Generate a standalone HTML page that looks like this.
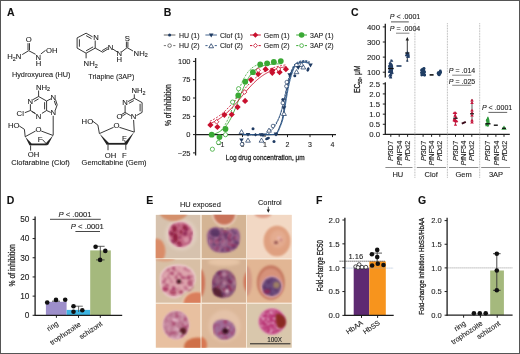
<!DOCTYPE html>
<html><head><meta charset="utf-8"><style>
html,body{margin:0;padding:0;background:#fff;}
body{width:520px;height:354px;overflow:hidden;position:relative;}
svg{position:absolute;left:0;top:0;display:block;will-change:transform;}
svg text{font-family:"Liberation Sans",sans-serif;stroke:#222;stroke-width:0.1px;}
.cd{stroke:#222;stroke-width:0.28px;}
</style></head><body>
<svg width="520" height="354" viewBox="0 0 520 354">
<rect x="0" y="0" width="520" height="354" fill="#fff"/>
<defs>
<filter id="bl1" x="-30%" y="-30%" width="160%" height="160%"><feGaussianBlur stdDeviation="0.9"/></filter>
<filter id="bl2" x="-30%" y="-30%" width="160%" height="160%"><feGaussianBlur stdDeviation="0.8"/></filter>
<filter id="bl4" x="-100%" y="-100%" width="300%" height="300%"><feGaussianBlur stdDeviation="0.8"/></filter>
<filter id="bl3" x="-30%" y="-30%" width="160%" height="160%"><feGaussianBlur stdDeviation="1.6"/></filter>
<clipPath id="c00"><rect x="155.7" y="214.8" width="44.8" height="43.5"/></clipPath>
<clipPath id="c10"><rect x="155.7" y="259.3" width="44.8" height="43.5"/></clipPath>
<clipPath id="c20"><rect x="155.7" y="303.8" width="44.8" height="44.0"/></clipPath>
<clipPath id="c01"><rect x="201.5" y="214.8" width="44.5" height="43.5"/></clipPath>
<clipPath id="c11"><rect x="201.5" y="259.3" width="44.5" height="43.5"/></clipPath>
<clipPath id="c21"><rect x="201.5" y="303.8" width="44.5" height="44.0"/></clipPath>
<clipPath id="c02"><rect x="247.0" y="214.8" width="44.8" height="43.5"/></clipPath>
<clipPath id="c12"><rect x="247.0" y="259.3" width="44.8" height="43.5"/></clipPath>
<clipPath id="c22"><rect x="247.0" y="303.8" width="44.8" height="44.0"/></clipPath>
<filter id="mdA" x="0" y="0" width="100%" height="100%" color-interpolation-filters="sRGB"><feTurbulence type="fractalNoise" baseFrequency="0.25" numOctaves="2" seed="3" result="t"/><feColorMatrix in="t" type="matrix" values="0 0 0 0 0.541  0 0 0 0 0.125  0 0 0 0 0.314  3.4 0 0 0 -1.58" result="sp"/><feComposite in="sp" in2="SourceAlpha" operator="in" result="cc"/><feGaussianBlur in="cc" stdDeviation="0.8"/></filter>
<filter id="mlA" x="0" y="0" width="100%" height="100%" color-interpolation-filters="sRGB"><feTurbulence type="fractalNoise" baseFrequency="0.22" numOctaves="2" seed="11" result="t"/><feColorMatrix in="t" type="matrix" values="0 0 0 0 0.941  0 0 0 0 0.816  0 0 0 0 0.863  2.4 0 0 0 -1.15" result="sp"/><feComposite in="sp" in2="SourceAlpha" operator="in" result="cc"/><feGaussianBlur in="cc" stdDeviation="0.8"/></filter>
<filter id="mdB" x="0" y="0" width="100%" height="100%" color-interpolation-filters="sRGB"><feTurbulence type="fractalNoise" baseFrequency="0.24" numOctaves="2" seed="5" result="t"/><feColorMatrix in="t" type="matrix" values="0 0 0 0 0.333  0 0 0 0 0.188  0 0 0 0 0.376  3.4 0 0 0 -1.55" result="sp"/><feComposite in="sp" in2="SourceAlpha" operator="in" result="cc"/><feGaussianBlur in="cc" stdDeviation="0.8"/></filter>
<filter id="mlB" x="0" y="0" width="100%" height="100%" color-interpolation-filters="sRGB"><feTurbulence type="fractalNoise" baseFrequency="0.22" numOctaves="2" seed="17" result="t"/><feColorMatrix in="t" type="matrix" values="0 0 0 0 0.784  0 0 0 0 0.596  0 0 0 0 0.690  1.9 0 0 0 -0.88" result="sp"/><feComposite in="sp" in2="SourceAlpha" operator="in" result="cc"/><feGaussianBlur in="cc" stdDeviation="0.8"/></filter>
<filter id="mdC" x="0" y="0" width="100%" height="100%" color-interpolation-filters="sRGB"><feTurbulence type="fractalNoise" baseFrequency="0.25" numOctaves="2" seed="8" result="t"/><feColorMatrix in="t" type="matrix" values="0 0 0 0 0.627  0 0 0 0 0.188  0 0 0 0 0.369  3.4 0 0 0 -1.6" result="sp"/><feComposite in="sp" in2="SourceAlpha" operator="in" result="cc"/><feGaussianBlur in="cc" stdDeviation="0.8"/></filter>
<filter id="mlW" x="0" y="0" width="100%" height="100%" color-interpolation-filters="sRGB"><feTurbulence type="fractalNoise" baseFrequency="0.4" numOctaves="2" seed="21" result="t"/><feColorMatrix in="t" type="matrix" values="0 0 0 0 0.980  0 0 0 0 0.902  0 0 0 0 0.941  4.2 0 0 0 -2.05" result="sp"/><feComposite in="sp" in2="SourceAlpha" operator="in" result="cc"/><feGaussianBlur in="cc" stdDeviation="0.8"/></filter>
</defs>
<rect x="155.7" y="214.8" width="136.1" height="133" fill="#f6e8d8"/>
<g clip-path="url(#c00)">
<rect x="155.7" y="214.8" width="44.8" height="43.5" fill="#d6c2ae"/>
<ellipse cx="181" cy="234.5" rx="16" ry="16" fill="#e0cebe" filter="url(#bl3)" />
<ellipse cx="173.5" cy="210.5" rx="14.5" ry="10.5" fill="#d4906c" filter="url(#bl1)" />
<ellipse cx="156.5" cy="251" rx="9" ry="12.5" fill="#da8c68" filter="url(#bl1)" />
<path d="M168,232 C168,225 175,221 182,221.5 C189,222 194,228 193.5,235 C193,242 188,248 181,248 C173,248 168,240 168,232 Z" fill="#eac4c8" filter="url(#bl1)"/>
<path d="M169,232 C169,225.5 175.5,222.3 182,222.6 C188.5,223 192.7,228.5 192.4,235 C192,241.5 187.5,247 181,247 C173.5,247 169,239.5 169,232 Z" fill="#c9708a" filter="url(#bl2)"/>
<ellipse cx="180.7" cy="234.6" rx="12" ry="12.4" fill="#000" filter="url(#mdA)" />
<ellipse cx="174.5" cy="229" rx="2.2" ry="3.2" fill="#8e1c3c" filter="url(#bl4)" opacity="0.9"/>
<ellipse cx="175.5" cy="237.5" rx="2.4" ry="4.5" fill="#8e1c3c" filter="url(#bl4)" opacity="0.9"/>
<ellipse cx="179" cy="243" rx="2.5" ry="1.8" fill="#8e1c3c" filter="url(#bl4)" opacity="0.9"/>
<ellipse cx="184.5" cy="227.5" rx="2" ry="2.2" fill="#8e1c3c" filter="url(#bl4)" opacity="0.9"/>
<ellipse cx="181" cy="232" rx="1.6" ry="2.5" fill="#8e1c3c" filter="url(#bl4)" opacity="0.9"/>
<ellipse cx="172" cy="234" rx="1.5" ry="2.5" fill="#8e1c3c" filter="url(#bl4)" opacity="0.9"/>
<ellipse cx="186.5" cy="240" rx="3.5" ry="3" fill="#e0a0b0" filter="url(#bl4)" opacity="0.7"/>
</g>
<g clip-path="url(#c01)">
<rect x="201.5" y="214.8" width="44.5" height="43.5" fill="#d4b494"/>
<path d="M207,238 C206,229 213,226 218,227.5 C222,229 224,231 226,231 C229,229 234,227 237.5,229 C241,233 241,242 236.5,248 C231,253.5 218,254 212,250 C208,246 207,242 207,238 Z" fill="#96608a" filter="url(#bl2)"/>
<ellipse cx="224" cy="240" rx="15.5" ry="12.5" fill="#000" filter="url(#mdB)" />
<ellipse cx="224" cy="241" rx="14" ry="11" fill="#000" filter="url(#mdA)" />
<ellipse cx="224" cy="240" rx="15" ry="12" fill="#000" filter="url(#mlB)" />
<ellipse cx="215" cy="232.5" rx="5" ry="4" fill="#553262" filter="url(#bl1)" opacity="0.85"/>
<ellipse cx="224.3" cy="214.5" rx="12" ry="12" fill="#eed8c8" filter="url(#bl1)" />
<ellipse cx="224.3" cy="214" rx="10.8" ry="10.8" fill="#c8735a" filter="url(#bl1)" />
</g>
<g clip-path="url(#c02)">
<rect x="247.0" y="214.8" width="44.8" height="43.5" fill="#f2d8c4"/>
<ellipse cx="263" cy="214" rx="8.5" ry="4" fill="#dfa08a" filter="url(#bl1)" />
<ellipse cx="277" cy="241" rx="14.5" ry="16.5" fill="#f6e0cc" filter="url(#bl1)" />
<ellipse cx="277" cy="241" rx="13.6" ry="15.6" fill="#dfa080" filter="url(#bl1)" />
<ellipse cx="278" cy="239" rx="8" ry="9" fill="#e4ac90" filter="url(#bl3)" />
<ellipse cx="276" cy="242.5" rx="1.9" ry="1.6" fill="#8a4848" filter="url(#bl4)" />
<ellipse cx="279" cy="238" rx="2.2" ry="1.8" fill="#e8b8b0" filter="url(#bl4)" />
<ellipse cx="281" cy="240" rx="1.2" ry="1.5" fill="#c88080" filter="url(#bl4)" />
</g>
<g clip-path="url(#c10)">
<rect x="155.7" y="259.3" width="44.8" height="43.5" fill="#d8bfa5"/>
<ellipse cx="165" cy="258.5" rx="10" ry="3" fill="#dca080" filter="url(#bl1)" />
<path d="M160,280 C159,270 168,264.5 178,264.5 C188,264.5 196,270 195.5,279 C195,286 190,290 185,292 C182,294 180,297 176,298 C166,299 160,290 160,280 Z" fill="#eed6d4" filter="url(#bl1)"/>
<path d="M161,280 C160,271 168,265.5 178,265.5 C187.5,265.5 195,271 194.5,279 C194,285.5 189.5,289 184.5,291 C181.5,293 179.5,296 176,297 C166.5,298 161,290 161,280 Z" fill="#dea6ae" filter="url(#bl2)"/>
<ellipse cx="178" cy="281" rx="16.5" ry="15" fill="#000" filter="url(#mdC)" />
<ellipse cx="179" cy="281.4" rx="1.9" ry="2" fill="#2a0c10" filter="url(#bl4)" />
<ellipse cx="165.5" cy="289" rx="3" ry="2.3" fill="#b04068" filter="url(#bl4)" />
<ellipse cx="173" cy="292.5" rx="3.5" ry="2" fill="#b04868" filter="url(#bl4)" />
<ellipse cx="181" cy="292" rx="2" ry="1.8" fill="#a84060" filter="url(#bl4)" />
<ellipse cx="190" cy="283" rx="2.5" ry="3" fill="#b55a78" filter="url(#bl4)" />
<ellipse cx="196.5" cy="303" rx="14" ry="11.5" fill="#f0d8c0" filter="url(#bl1)" />
<ellipse cx="197" cy="303" rx="13.5" ry="11" fill="#da7e5c" filter="url(#bl1)" />
</g>
<g clip-path="url(#c11)">
<rect x="201.5" y="259.3" width="44.5" height="43.5" fill="#d5b294"/>
<ellipse cx="200" cy="283" rx="5" ry="14" fill="#cf7458" filter="url(#bl1)" />
<ellipse cx="249" cy="282" rx="5.5" ry="11" fill="#cf7458" filter="url(#bl1)" />
<ellipse cx="224" cy="262" rx="16" ry="4" fill="#e6c4a6" filter="url(#bl3)" />
<path d="M212,286 C211.5,277 216,269.5 224,269.5 C231.5,269.5 236.5,277 236,285 C235.5,293 230,298 223.5,297.8 C216.5,297.6 212.3,293 212,286 Z" fill="#93607e" filter="url(#bl4)"/>
<ellipse cx="224" cy="283.8" rx="11.8" ry="13.4" fill="#000" filter="url(#mdB)" />
<ellipse cx="224" cy="283.8" rx="11.5" ry="13" fill="#000" filter="url(#mdA)" />
<ellipse cx="224" cy="283.8" rx="11.5" ry="13" fill="#000" filter="url(#mlB)" />
<path d="M212.5,289 C214,295 219,298 224,297 C221,294 219,290 216,287 Z" fill="#4e1e2e" filter="url(#bl4)" opacity="0.9"/>
<ellipse cx="217.5" cy="292" rx="4" ry="3.5" fill="#5a2232" filter="url(#bl4)" opacity="0.8"/>
<ellipse cx="227" cy="291" rx="1.8" ry="1.5" fill="#e8d0dc" filter="url(#bl4)" />
</g>
<g clip-path="url(#c12)">
<rect x="247.0" y="259.3" width="44.8" height="43.5" fill="#e2b694"/>
<ellipse cx="247" cy="281" rx="5" ry="15" fill="#d49a84" filter="url(#bl1)" />
<ellipse cx="270.8" cy="282.5" rx="14" ry="17.2" fill="#c67a62" filter="url(#bl1)" />
<ellipse cx="270.8" cy="283.5" rx="12" ry="15" fill="#d6927a" filter="url(#bl2)" />
<ellipse cx="271.8" cy="286.6" rx="11" ry="10.8" fill="#d8a0a8" filter="url(#bl2)" />
<ellipse cx="271.8" cy="286.6" rx="9.3" ry="9.3" fill="#6c4c7c" filter="url(#bl2)" />
<ellipse cx="271.8" cy="286.6" rx="9" ry="9" fill="#000" filter="url(#mdB)" />
<ellipse cx="276.5" cy="285" rx="3.4" ry="3.2" fill="#a88a66" filter="url(#bl4)" opacity="0.85"/>
<ellipse cx="267" cy="291.5" rx="3.2" ry="2.2" fill="#8a2c5a" filter="url(#bl4)" />
</g>
<g clip-path="url(#c20)">
<rect x="155.7" y="303.8" width="44.8" height="44.0" fill="#e8c0a0"/>
<ellipse cx="197" cy="347" rx="13" ry="9.5" fill="#cf7048" filter="url(#bl1)" />
<ellipse cx="176" cy="325" rx="13.5" ry="14.5" fill="#ecc8c4" filter="url(#bl1)" />
<ellipse cx="176" cy="325" rx="12.7" ry="13.8" fill="#c08098" filter="url(#bl4)" />
<ellipse cx="176" cy="325" rx="12.2" ry="13.3" fill="#000" filter="url(#mdC)" />
<ellipse cx="176" cy="325" rx="12.2" ry="13.3" fill="#000" filter="url(#mlA)" />
<ellipse cx="183" cy="331" rx="3.2" ry="3.6" fill="#5a1e26" filter="url(#bl4)" />
<ellipse cx="180.5" cy="333.5" rx="1.2" ry="1" fill="#f4e8ec" filter="url(#bl4)" />
</g>
<g clip-path="url(#c21)">
<rect x="201.5" y="303.8" width="44.5" height="44.0" fill="#dcb89a"/>
<ellipse cx="201" cy="345" rx="6" ry="8" fill="#d87852" filter="url(#bl1)" />
<ellipse cx="224.5" cy="326" rx="16" ry="16" fill="#e4c2a8" filter="url(#bl3)" />
<path d="M213,326 C214,320 221,318.5 227,320 C232,321.5 236,326 235.5,331 C235,337 229,340 223,339.5 C217,339 212.5,333 213,326 Z" fill="#a06e98" filter="url(#bl2)"/>
<ellipse cx="224" cy="329.6" rx="11" ry="9.6" fill="#000" filter="url(#mdC)" />
<ellipse cx="225.4" cy="331" rx="3.2" ry="3" fill="#3a1020" filter="url(#bl4)" />
<ellipse cx="228" cy="327.8" rx="1" ry="1" fill="#f4eef0" filter="url(#bl4)" />
</g>
<g clip-path="url(#c22)">
<rect x="247.0" y="303.8" width="44.8" height="44.0" fill="#d9c7ac"/>
<ellipse cx="272" cy="321.5" rx="13.5" ry="13.2" fill="#e6b4c4" filter="url(#bl1)" />
<ellipse cx="272" cy="321.5" rx="12.8" ry="12.5" fill="#b83272" filter="url(#bl4)" />
<ellipse cx="272" cy="321.5" rx="12.3" ry="12" fill="#000" filter="url(#mlW)" />
<path d="M276,314 C281,313 286,317 286,322 C286,327 282,329 278,328 C276,324 275,318 276,314 Z" fill="#8a2a22" filter="url(#bl2)"/>
</g>
<line x1="250" y1="343.8" x2="290.4" y2="343.8" stroke="#222" stroke-width="1"/>
<text x="274.6" y="341.8" font-size="6.3" text-anchor="middle" fill="#222">100X</text>
<text x="180" y="206.7" font-size="7.2" fill="#222" textLength="40.8" lengthAdjust="spacingAndGlyphs">HU exposed</text>
<line x1="180" y1="211.3" x2="221.5" y2="211.3" stroke="#333" stroke-width="1"/>
<text x="258" y="205.2" font-size="7.2" fill="#222" textLength="23.7" lengthAdjust="spacingAndGlyphs">Control</text>
<line x1="268.3" y1="206.6" x2="268.3" y2="210.5" stroke="#222" stroke-width="0.8"/>
<polygon points="266.6,209.6 270,209.6 268.3,212.7" fill="#222"/>
<text x="28.7" y="41.6" font-size="7.7" text-anchor="middle" fill="#222">O</text>
<line x1="28.0" y1="43.2" x2="28.0" y2="50.2" stroke="#222" stroke-width="0.9"/>
<line x1="29.5" y1="43.2" x2="29.5" y2="50.2" stroke="#222" stroke-width="0.9"/>
<text x="7.2" y="59.1" font-size="7.7" text-anchor="start" fill="#222">H<tspan font-size="5.4" dy="1.6">2</tspan><tspan dy="-1.6">N</tspan></text>
<line x1="22.2" y1="54.6" x2="28.7" y2="50.7" stroke="#222" stroke-width="0.9"/>
<line x1="28.7" y1="50.7" x2="35.6" y2="54.3" stroke="#222" stroke-width="0.9"/>
<text x="38.3" y="59.8" font-size="7.7" text-anchor="middle" fill="#222">N</text>
<text x="38.6" y="66" font-size="7.7" text-anchor="middle" fill="#222">H</text>
<line x1="40.8" y1="54.0" x2="45.6" y2="50.3" stroke="#222" stroke-width="0.9"/>
<text x="46.0" y="52.8" font-size="7.7" text-anchor="start" fill="#222">OH</text>
<text x="12" y="77.0" font-size="7.2" text-anchor="start" fill="#222" font-weight="normal" textLength="58.5" lengthAdjust="spacingAndGlyphs">Hydroxyurea (HU)</text>
<line x1="86.1" y1="33.2" x2="92.6" y2="36.9" stroke="#222" stroke-width="0.9"/>
<line x1="95.2" y1="40.5" x2="95.2" y2="48.1" stroke="#222" stroke-width="0.9"/>
<line x1="95.2" y1="48.1" x2="86.1" y2="53.2" stroke="#222" stroke-width="0.9"/>
<line x1="86.1" y1="53.2" x2="77.1" y2="48.1" stroke="#222" stroke-width="0.9"/>
<line x1="77.1" y1="48.1" x2="77.1" y2="37.9" stroke="#222" stroke-width="0.9"/>
<line x1="77.1" y1="37.9" x2="86.1" y2="33.2" stroke="#222" stroke-width="0.9"/>
<line x1="79.4" y1="39.3" x2="79.4" y2="46.7" stroke="#222" stroke-width="0.9"/>
<line x1="86.1" y1="35.6" x2="91.5" y2="38.7" stroke="#222" stroke-width="0.9"/>
<line x1="86.1" y1="50.8" x2="93.1" y2="46.9" stroke="#222" stroke-width="0.9"/>
<text x="96.1" y="40.4" font-size="7.7" text-anchor="middle" fill="#222">N</text>
<line x1="86.1" y1="53.2" x2="86.1" y2="58.3" stroke="#222" stroke-width="0.9"/>
<text x="83.6" y="66.2" font-size="7.7" text-anchor="start" fill="#222">NH<tspan font-size="5.4" dy="1.6">2</tspan></text>
<line x1="95.2" y1="48.1" x2="102.6" y2="52.2" stroke="#222" stroke-width="0.9"/>
<line x1="102.6" y1="52.2" x2="108.2" y2="48.8" stroke="#222" stroke-width="0.9"/>
<line x1="102.1" y1="50.6" x2="107.6" y2="47.4" stroke="#222" stroke-width="0.9"/>
<text x="110.6" y="49.6" font-size="7.7" text-anchor="middle" fill="#222">N</text>
<line x1="113" y1="49.2" x2="117.4" y2="52.0" stroke="#222" stroke-width="0.9"/>
<text x="119.3" y="55.8" font-size="7.7" text-anchor="middle" fill="#222">N</text>
<text x="119.3" y="62.2" font-size="7.7" text-anchor="middle" fill="#222">H</text>
<line x1="121.5" y1="52.0" x2="127.1" y2="47.6" stroke="#222" stroke-width="0.9"/>
<line x1="127.1" y1="47.6" x2="133.0" y2="51.0" stroke="#222" stroke-width="0.9"/>
<line x1="126.4" y1="47.4" x2="126.4" y2="41.6" stroke="#222" stroke-width="0.9"/>
<line x1="127.9" y1="47.4" x2="127.9" y2="41.6" stroke="#222" stroke-width="0.9"/>
<text x="127.4" y="40.6" font-size="7.7" text-anchor="middle" fill="#222">S</text>
<text x="133.6" y="55.8" font-size="7.7" text-anchor="start" fill="#222">NH<tspan font-size="5.4" dy="1.6">2</tspan></text>
<text x="88.3" y="78.6" font-size="7.2" text-anchor="start" fill="#222" font-weight="normal" textLength="46" lengthAdjust="spacingAndGlyphs">Triapine (3AP)</text>
<text x="36" y="89.5" font-size="7.7" text-anchor="start" fill="#222">NH<tspan font-size="5.4" dy="1.6">2</tspan></text>
<line x1="38.6" y1="90.5" x2="38.6" y2="96.5" stroke="#222" stroke-width="0.9"/>
<line x1="38.6" y1="96.5" x2="33.0" y2="99.6" stroke="#222" stroke-width="0.9"/>
<line x1="30.4" y1="104.2" x2="30.4" y2="110.5" stroke="#222" stroke-width="0.9"/>
<line x1="30.4" y1="110.5" x2="35.4" y2="113.4" stroke="#222" stroke-width="0.9"/>
<line x1="41.9" y1="113.4" x2="46.6" y2="110.5" stroke="#222" stroke-width="0.9"/>
<line x1="46.6" y1="110.5" x2="46.6" y2="101.0" stroke="#222" stroke-width="0.9"/>
<line x1="46.6" y1="101.0" x2="38.6" y2="96.5" stroke="#222" stroke-width="0.9"/>
<line x1="44.6" y1="102.2" x2="44.6" y2="109.4" stroke="#222" stroke-width="0.9"/>
<line x1="38.6" y1="98.9" x2="34.2" y2="101.4" stroke="#222" stroke-width="0.9"/>
<line x1="32.2" y1="111.8" x2="35.6" y2="113.8" stroke="#222" stroke-width="0.9"/>
<text x="30.4" y="103.6" font-size="7.7" text-anchor="middle" fill="#222">N</text>
<text x="38.6" y="118.6" font-size="7.7" text-anchor="middle" fill="#222">N</text>
<line x1="24.8" y1="112.7" x2="30.4" y2="110.5" stroke="#222" stroke-width="0.9"/>
<text x="16.6" y="115.6" font-size="7.7" text-anchor="start" fill="#222">Cl</text>
<line x1="46.6" y1="101.0" x2="51.0" y2="98.8" stroke="#222" stroke-width="0.9"/>
<text x="53.4" y="100.2" font-size="7.7" text-anchor="middle" fill="#222">N</text>
<line x1="55.5" y1="99.6" x2="57.2" y2="104.8" stroke="#222" stroke-width="0.9"/>
<line x1="54.3" y1="100.8" x2="55.8" y2="105.4" stroke="#222" stroke-width="0.9"/>
<line x1="57.2" y1="104.8" x2="55.3" y2="110.2" stroke="#222" stroke-width="0.9"/>
<text x="53.4" y="115.0" font-size="7.7" text-anchor="middle" fill="#222">N</text>
<line x1="50.8" y1="112.4" x2="46.6" y2="110.5" stroke="#222" stroke-width="0.9"/>
<line x1="53.2" y1="115.8" x2="53.2" y2="135.2" stroke="#222" stroke-width="0.9"/>
<text x="8" y="128.2" font-size="7.7" text-anchor="start" fill="#222">HO</text>
<line x1="19.3" y1="126.0" x2="24.4" y2="129.3" stroke="#222" stroke-width="0.9"/>
<line x1="24.4" y1="129.3" x2="25.2" y2="136.7" stroke="#222" stroke-width="0.9"/>
<line x1="25.2" y1="136.7" x2="35.6" y2="131.0" stroke="#222" stroke-width="0.9"/>
<text x="38.4" y="132.4" font-size="7.7" text-anchor="middle" fill="#222">O</text>
<line x1="41.2" y1="131.0" x2="53.2" y2="135.5" stroke="#222" stroke-width="0.9"/>
<polygon points="53.2,135.2 47.9,145.2 45.6,143.4" fill="#222"/>
<polygon points="25.2,136.7 31.6,143.6 29.6,145.4" fill="#222"/>
<line x1="30.0" y1="144.4" x2="46.9" y2="144.4" stroke="#222" stroke-width="1.8"/>
<line x1="46.9" y1="144.4" x2="42.4" y2="139.5" stroke="#222" stroke-width="0.9"/>
<text x="40.2" y="141.8" font-size="7.7" text-anchor="middle" fill="#222">F</text>
<line x1="30.6" y1="145.4" x2="30.6" y2="150.6" stroke="#222" stroke-width="0.9"/>
<text x="33.6" y="156.9" font-size="7.7" text-anchor="middle" fill="#222">OH</text>
<text x="11.3" y="164.7" font-size="7.2" text-anchor="start" fill="#222" font-weight="normal" textLength="58.5" lengthAdjust="spacingAndGlyphs">Clofarabine (Clof)</text>
<text x="131.5" y="93.4" font-size="7.7" text-anchor="start" fill="#222">NH<tspan font-size="5.4" dy="1.6">2</tspan></text>
<line x1="134.3" y1="94.3" x2="134.3" y2="98.3" stroke="#222" stroke-width="0.9"/>
<line x1="134.3" y1="98.3" x2="142.1" y2="102.6" stroke="#222" stroke-width="0.9"/>
<line x1="142.1" y1="102.6" x2="142.1" y2="112.4" stroke="#222" stroke-width="0.9"/>
<line x1="142.1" y1="112.4" x2="136.4" y2="115.6" stroke="#222" stroke-width="0.9"/>
<line x1="140.1" y1="103.8" x2="140.1" y2="111.3" stroke="#222" stroke-width="0.9"/>
<line x1="134.3" y1="98.3" x2="128.0" y2="101.6" stroke="#222" stroke-width="0.9"/>
<line x1="133.8" y1="100.6" x2="128.9" y2="103.3" stroke="#222" stroke-width="0.9"/>
<text x="125.1" y="104.6" font-size="7.7" text-anchor="middle" fill="#222">N</text>
<line x1="125.1" y1="105.2" x2="125.1" y2="112.4" stroke="#222" stroke-width="0.9"/>
<line x1="125.1" y1="112.4" x2="130.8" y2="115.8" stroke="#222" stroke-width="0.9"/>
<text x="133.6" y="119.0" font-size="7.7" text-anchor="middle" fill="#222">N</text>
<line x1="125.1" y1="112.4" x2="121.4" y2="114.6" stroke="#222" stroke-width="0.9"/>
<line x1="125.9" y1="113.8" x2="122.2" y2="116.0" stroke="#222" stroke-width="0.9"/>
<text x="119.5" y="119.2" font-size="7.7" text-anchor="middle" fill="#222">O</text>
<line x1="133.6" y1="120.0" x2="134.3" y2="132.1" stroke="#222" stroke-width="0.9"/>
<text x="81.6" y="123.5" font-size="7.7" text-anchor="start" fill="#222">HO</text>
<line x1="92.2" y1="120.8" x2="97.9" y2="125.1" stroke="#222" stroke-width="0.9"/>
<line x1="97.9" y1="125.1" x2="99.4" y2="133.6" stroke="#222" stroke-width="0.9"/>
<line x1="99.4" y1="133.6" x2="113.6" y2="127.3" stroke="#222" stroke-width="0.9"/>
<text x="116.5" y="128.4" font-size="7.7" text-anchor="middle" fill="#222">O</text>
<line x1="119.4" y1="127.3" x2="134.3" y2="132.1" stroke="#222" stroke-width="0.9"/>
<polygon points="134.3,131.8 126.8,145.0 124.4,143.0" fill="#222"/>
<polygon points="99.4,133.6 109.2,143.2 106.8,145.0" fill="#222"/>
<line x1="107.6" y1="143.8" x2="125.8" y2="143.8" stroke="#222" stroke-width="1.8"/>
<line x1="125.8" y1="143.8" x2="124.6" y2="140.2" stroke="#222" stroke-width="0.9"/>
<text x="124.3" y="140.8" font-size="7.7" text-anchor="middle" fill="#222">F</text>
<line x1="125.8" y1="143.8" x2="125.8" y2="149.8" stroke="#222" stroke-width="0.9"/>
<text x="124.4" y="157.6" font-size="7.7" text-anchor="middle" fill="#222">F</text>
<line x1="108" y1="144.5" x2="108" y2="150.2" stroke="#222" stroke-width="0.9"/>
<text x="110.6" y="157.7" font-size="7.7" text-anchor="middle" fill="#222">OH</text>
<text x="81.6" y="164.8" font-size="7.2" text-anchor="start" fill="#222" font-weight="normal" textLength="65" lengthAdjust="spacingAndGlyphs">Gemcitabine (Gem)</text>
<text x="7" y="15.8" font-size="10.5" text-anchor="start" fill="#111" font-weight="bold" >A</text>
<text x="163.8" y="16.2" font-size="10.5" text-anchor="start" fill="#111" font-weight="bold" >B</text>
<text x="351" y="16.1" font-size="10.5" text-anchor="start" fill="#111" font-weight="bold" >C</text>
<text x="6.8" y="203.6" font-size="10.5" text-anchor="start" fill="#111" font-weight="bold" >D</text>
<text x="146.2" y="203.6" font-size="10.5" text-anchor="start" fill="#111" font-weight="bold" >E</text>
<text x="315.9" y="203.6" font-size="10.5" text-anchor="start" fill="#111" font-weight="bold" >F</text>
<text x="418" y="203.6" font-size="10.5" text-anchor="start" fill="#111" font-weight="bold" >G</text>
<line x1="195.6" y1="58" x2="195.6" y2="155.5" stroke="#1e1e1e" stroke-width="1.3" />
<line x1="193" y1="61.39999999999999" x2="195.6" y2="61.39999999999999" stroke="#1e1e1e" stroke-width="1" />
<text x="190.5" y="63.99999999999999" font-size="7.5" text-anchor="end" fill="#222" font-weight="normal" >100</text>
<line x1="193" y1="79.69999999999999" x2="195.6" y2="79.69999999999999" stroke="#1e1e1e" stroke-width="1" />
<text x="190.5" y="82.29999999999998" font-size="7.5" text-anchor="end" fill="#222" font-weight="normal" >75</text>
<line x1="193" y1="98.0" x2="195.6" y2="98.0" stroke="#1e1e1e" stroke-width="1" />
<text x="190.5" y="100.6" font-size="7.5" text-anchor="end" fill="#222" font-weight="normal" >50</text>
<line x1="193" y1="116.3" x2="195.6" y2="116.3" stroke="#1e1e1e" stroke-width="1" />
<text x="190.5" y="118.89999999999999" font-size="7.5" text-anchor="end" fill="#222" font-weight="normal" >25</text>
<line x1="193" y1="134.6" x2="195.6" y2="134.6" stroke="#1e1e1e" stroke-width="1" />
<text x="190.5" y="137.2" font-size="7.5" text-anchor="end" fill="#222" font-weight="normal" >0</text>
<line x1="193" y1="152.9" x2="195.6" y2="152.9" stroke="#1e1e1e" stroke-width="1" />
<text x="190.5" y="155.5" font-size="7.5" text-anchor="end" fill="#222" font-weight="normal" >&#8722;25</text>
<line x1="195.6" y1="134.6" x2="336" y2="134.6" stroke="#1e1e1e" stroke-width="1.3" />
<line x1="220.0" y1="134.6" x2="220.0" y2="137.1" stroke="#1e1e1e" stroke-width="1" />
<line x1="242.5" y1="134.6" x2="242.5" y2="137.1" stroke="#1e1e1e" stroke-width="1" />
<text x="242.5" y="147.2" font-size="7" text-anchor="middle" fill="#222" font-weight="normal" >0</text>
<line x1="265.0" y1="134.6" x2="265.0" y2="137.1" stroke="#1e1e1e" stroke-width="1" />
<text x="265.0" y="147.2" font-size="7" text-anchor="middle" fill="#222" font-weight="normal" >1</text>
<line x1="287.5" y1="134.6" x2="287.5" y2="137.1" stroke="#1e1e1e" stroke-width="1" />
<text x="287.5" y="147.2" font-size="7" text-anchor="middle" fill="#222" font-weight="normal" >2</text>
<line x1="310.0" y1="134.6" x2="310.0" y2="137.1" stroke="#1e1e1e" stroke-width="1" />
<text x="310.0" y="147.2" font-size="7" text-anchor="middle" fill="#222" font-weight="normal" >3</text>
<line x1="332.5" y1="134.6" x2="332.5" y2="137.1" stroke="#1e1e1e" stroke-width="1" />
<text x="332.5" y="147.2" font-size="7" text-anchor="middle" fill="#222" font-weight="normal" >4</text>
<text x="220.5" y="147.2" font-size="7" text-anchor="middle" fill="#222" font-weight="normal" >&#8722;1</text>
<text x="225.8" y="159.6" font-size="8.1" text-anchor="start" fill="#222" font-weight="normal" textLength="78.8" lengthAdjust="spacingAndGlyphs" class="cd">Log drug concentration, &#956;m</text>
<text transform="translate(171.2,105.2) rotate(-90)" font-size="8.5" text-anchor="middle" fill="#222" textLength="41.6" lengthAdjust="spacingAndGlyphs" class="cd">% of inhibition</text>
<polyline points="209.88,134.91 210.78,134.76 211.68,134.58 212.57,134.38 213.47,134.16 214.38,133.90 215.28,133.61 216.18,133.29 217.07,132.92 217.97,132.51 218.88,132.05 219.78,131.53 220.68,130.95 221.57,130.31 222.47,129.59 223.38,128.78 224.28,127.89 225.18,126.91 226.07,125.83 226.97,124.64 227.88,123.35 228.78,121.94 229.68,120.41 230.58,118.77 231.47,117.02 232.38,115.16 233.28,113.19 234.18,111.12 235.08,108.97 235.97,106.75 236.88,104.48 237.78,102.16 238.68,99.83 239.57,97.50 240.47,95.18 241.38,92.91 242.28,90.69 243.18,88.54 244.07,86.47 244.97,84.50 245.88,82.64 246.78,80.89 247.68,79.25 248.57,77.72 249.47,76.31 250.38,75.02 251.28,73.83 252.18,72.75 253.08,71.77 253.97,70.88 254.88,70.07 255.78,69.35 256.68,68.71 257.57,68.13 258.48,67.61 259.38,67.15 260.27,66.74 261.18,66.37 262.07,66.05 262.98,65.76 263.88,65.50 264.78,65.28 265.68,65.08 266.57,64.90 267.48,64.75 268.38,64.61 269.27,64.49 270.18,64.38 271.07,64.29 271.98,64.20 272.88,64.13 273.78,64.07 274.68,64.01 275.57,63.96 276.48,63.92 277.38,63.88 278.27,63.84 279.18,63.81 280.07,63.79 280.98,63.76 281.88,63.74" fill="none" stroke="#3aa935" stroke-width="0.9"/>
<polyline points="221.12,130.38 221.88,129.48 222.64,128.50 223.40,127.44 224.16,126.29 224.92,125.05 225.68,123.71 226.44,122.29 227.20,120.77 227.96,119.15 228.72,117.45 229.48,115.66 230.24,113.79 231.00,111.85 231.76,109.84 232.52,107.77 233.28,105.66 234.03,103.52 234.79,101.36 235.55,99.20 236.31,97.04 237.07,94.91 237.83,92.81 238.59,90.76 239.35,88.77 240.11,86.84 240.87,84.99 241.63,83.22 242.39,81.54 243.15,79.95 243.91,78.46 244.67,77.06 245.43,75.75 246.18,74.53 246.94,73.40 247.70,72.36 248.46,71.40 249.22,70.52 249.98,69.72 250.74,68.98 251.50,68.31 252.26,67.70 253.02,67.14 253.78,66.64 254.54,66.19 255.30,65.77 256.06,65.40 256.82,65.07 257.57,64.77 258.33,64.49 259.09,64.25 259.85,64.03 260.61,63.83 261.37,63.65 262.13,63.49 262.89,63.35 263.65,63.22 264.41,63.11 265.17,63.01 265.93,62.91 266.69,62.83 267.45,62.76 268.21,62.69 268.97,62.63 269.73,62.58 270.48,62.53 271.24,62.49 272.00,62.45 272.76,62.42 273.52,62.39 274.28,62.36 275.04,62.34 275.80,62.31 276.56,62.29 277.32,62.28 278.08,62.26 278.84,62.25 279.60,62.24 280.36,62.22 281.12,62.21 281.88,62.21" fill="none" stroke="#3aa935" stroke-width="0.9" stroke-dasharray="2,1.5"/>
<polyline points="209.88,123.65 210.83,123.27 211.79,122.86 212.74,122.43 213.70,121.97 214.66,121.49 215.61,120.99 216.57,120.45 217.53,119.89 218.48,119.30 219.44,118.68 220.39,118.03 221.35,117.35 222.31,116.64 223.26,115.90 224.22,115.13 225.18,114.32 226.13,113.49 227.09,112.62 228.04,111.73 229.00,110.80 229.96,109.85 230.91,108.87 231.87,107.87 232.82,106.84 233.78,105.78 234.74,104.71 235.69,103.62 236.65,102.52 237.61,101.40 238.56,100.27 239.52,99.13 240.47,97.98 241.43,96.83 242.39,95.69 243.34,94.54 244.30,93.41 245.26,92.28 246.21,91.16 247.17,90.05 248.12,88.96 249.08,87.89 250.04,86.85 250.99,85.82 251.95,84.82 252.91,83.84 253.86,82.89 254.82,81.97 255.78,81.08 256.73,80.22 257.69,79.39 258.64,78.59 259.60,77.82 260.56,77.08 261.51,76.37 262.47,75.69 263.43,75.05 264.38,74.43 265.34,73.85 266.29,73.29 267.25,72.76 268.21,72.25 269.16,71.78 270.12,71.32 271.07,70.89 272.03,70.49 272.99,70.11 273.94,69.75 274.90,69.41 275.86,69.09 276.81,68.79 277.77,68.50 278.73,68.23 279.68,67.98 280.64,67.75 281.59,67.53 282.55,67.32 283.51,67.12 284.46,66.94 285.42,66.77 286.38,66.61" fill="none" stroke="#c8102e" stroke-width="0.9"/>
<polyline points="209.88,121.25 210.83,120.81 211.79,120.34 212.74,119.85 213.70,119.34 214.66,118.79 215.61,118.22 216.57,117.62 217.53,116.99 218.48,116.33 219.44,115.64 220.39,114.92 221.35,114.17 222.31,113.38 223.26,112.57 224.22,111.72 225.18,110.85 226.13,109.94 227.09,109.01 228.04,108.04 229.00,107.05 229.96,106.04 230.91,105.00 231.87,103.94 232.82,102.87 233.78,101.77 234.74,100.66 235.69,99.53 236.65,98.40 237.61,97.26 238.56,96.11 239.52,94.97 240.47,93.82 241.43,92.68 242.39,91.54 243.34,90.42 244.30,89.30 245.26,88.20 246.21,87.12 247.17,86.06 248.12,85.02 249.08,84.00 250.04,83.00 250.99,82.04 251.95,81.10 252.91,80.19 253.86,79.31 254.82,78.46 255.78,77.64 256.73,76.85 257.69,76.09 258.64,75.36 259.60,74.66 260.56,74.00 261.51,73.36 262.47,72.76 263.43,72.18 264.38,71.63 265.34,71.11 266.29,70.62 267.25,70.15 268.21,69.71 269.16,69.29 270.12,68.89 271.07,68.51 272.03,68.16 272.99,67.83 273.94,67.51 274.90,67.22 275.86,66.94 276.81,66.68 277.77,66.44 278.73,66.20 279.68,65.99 280.64,65.79 281.59,65.59 282.55,65.42 283.51,65.25 284.46,65.09 285.42,64.95 286.38,64.81" fill="none" stroke="#c8102e" stroke-width="0.9" stroke-dasharray="2,1.5"/>
<path d="M242.5,134.6 C245.92,134.57 258.75,134.83 263,134.4 C267.25,133.97 266.42,133.15 268,132 C269.58,130.85 270.95,129.33 272.5,127.5 C274.05,125.67 276.00,123.25 277.3,121 C278.60,118.75 279.38,116.67 280.3,114 C281.22,111.33 282.05,108.00 282.8,105 C283.55,102.00 284.13,99.17 284.8,96 C285.47,92.83 286.10,89.17 286.8,86 C287.50,82.83 288.17,79.75 289,77 C289.83,74.25 290.80,71.67 291.8,69.5 C292.80,67.33 293.63,65.38 295,64 C296.37,62.62 298.33,61.78 300,61.2 C301.67,60.62 303.42,60.45 305,60.5 C306.58,60.55 308.75,61.33 309.5,61.5" fill="none" stroke="#2a5a8e" stroke-width="0.9" stroke-dasharray="2,1.2"/>
<path d="M242.5,134.6 C246.42,134.57 261.33,134.92 266,134.4 C270.67,133.88 268.95,132.98 270.5,131.5 C272.05,130.02 273.92,127.67 275.3,125.5 C276.68,123.33 277.75,121.00 278.8,118.5 C279.85,116.00 280.77,113.25 281.6,110.5 C282.43,107.75 283.10,104.92 283.8,102 C284.50,99.08 285.13,96.00 285.8,93 C286.47,90.00 287.10,86.92 287.8,84 C288.50,81.08 289.17,78.08 290,75.5 C290.83,72.92 291.80,70.45 292.8,68.5 C293.80,66.55 294.63,64.95 296,63.8 C297.37,62.65 299.42,62.03 301,61.6 C302.58,61.17 304.08,61.10 305.5,61.2 C306.92,61.30 308.83,62.03 309.5,62.2" fill="none" stroke="#1f3b63" stroke-width="0.9" stroke-dasharray="2,1.2"/>
<path d="M242.5,134.6 C247.42,134.58 266.33,134.80 272,134.5 C277.67,134.20 275.25,134.05 276.5,132.8 C277.75,131.55 278.53,129.30 279.5,127 C280.47,124.70 281.55,122.00 282.3,119 C283.05,116.00 283.45,112.33 284,109 C284.55,105.67 285.03,102.33 285.6,99 C286.17,95.67 286.77,92.17 287.4,89 C288.03,85.83 288.67,82.83 289.4,80 C290.13,77.17 290.95,74.33 291.8,72 C292.65,69.67 293.30,67.53 294.5,66 C295.70,64.47 297.42,63.50 299,62.8 C300.58,62.10 302.25,61.80 304,61.8 C305.75,61.80 308.58,62.63 309.5,62.8" fill="none" stroke="#1f3b63" stroke-width="0.9"/>
<path d="M242.5,134.6 C247.67,134.58 267.67,134.85 273.5,134.5 C279.33,134.15 276.37,133.83 277.5,132.5 C278.63,131.17 279.37,128.83 280.3,126.5 C281.23,124.17 282.35,121.50 283.1,118.5 C283.85,115.50 284.25,111.83 284.8,108.5 C285.35,105.17 285.83,101.83 286.4,98.5 C286.97,95.17 287.57,91.67 288.2,88.5 C288.83,85.33 289.47,82.28 290.2,79.5 C290.93,76.72 291.75,74.05 292.6,71.8 C293.45,69.55 294.13,67.43 295.3,66 C296.47,64.57 298.07,63.80 299.6,63.2 C301.13,62.60 302.85,62.33 304.5,62.4 C306.15,62.47 308.67,63.40 309.5,63.6" fill="none" stroke="#2a5a8e" stroke-width="0.9"/>
<polygon points="210.4,121.80000000000001 213.5,124.9 210.4,128.0 207.3,124.9" fill="#c8102e"/>
<polygon points="217.4,123.9 220.5,127 217.4,130.1 214.3,127" fill="#c8102e"/>
<polygon points="224.4,111.7 227.5,114.8 224.4,117.89999999999999 221.3,114.8" fill="#c8102e"/>
<polygon points="231.7,111.4 234.79999999999998,114.5 231.7,117.6 228.6,114.5" fill="#c8102e"/>
<polygon points="237.6,104.0 240.7,107.1 237.6,110.19999999999999 234.5,107.1" fill="#c8102e"/>
<polygon points="245.1,97.80000000000001 248.2,100.9 245.1,104.0 242.0,100.9" fill="#c8102e"/>
<polygon points="251,76.7 254.1,79.8 251,82.89999999999999 247.9,79.8" fill="#c8102e"/>
<polygon points="258.2,71.0 261.3,74.1 258.2,77.19999999999999 255.1,74.1" fill="#c8102e"/>
<polygon points="265.6,66.10000000000001 268.70000000000005,69.2 265.6,72.3 262.5,69.2" fill="#c8102e"/>
<polygon points="272.3,69.7 275.40000000000003,72.8 272.3,75.89999999999999 269.2,72.8" fill="#c8102e"/>
<polygon points="272.3,67.4 275.40000000000003,70.5 272.3,73.6 269.2,70.5" fill="#c8102e"/>
<polygon points="279.6,69.10000000000001 282.70000000000005,72.2 279.6,75.3 276.5,72.2" fill="#c8102e"/>
<polygon points="285.9,66.10000000000001 289.0,69.2 285.9,72.3 282.79999999999995,69.2" fill="#c8102e"/>
<polygon points="216.6,119.5 218.9,121.8 216.6,124.1 214.29999999999998,121.8" fill="white" stroke="#c8102e" stroke-width="0.8"/>
<polygon points="244.6,89.8 246.9,92.1 244.6,94.39999999999999 242.29999999999998,92.1" fill="white" stroke="#c8102e" stroke-width="0.8"/>
<polygon points="258.2,67.9 260.5,70.2 258.2,72.5 255.89999999999998,70.2" fill="white" stroke="#c8102e" stroke-width="0.8"/>
<polygon points="278.5,66.7 280.8,69.0 278.5,71.3 276.2,69.0" fill="white" stroke="#c8102e" stroke-width="0.8"/>
<circle cx="211.7" cy="134.7" r="2.9" fill="#3aa935"/>
<circle cx="219.5" cy="137.1" r="2.9" fill="#3aa935"/>
<circle cx="225.5" cy="129" r="2.9" fill="#3aa935"/>
<circle cx="238.3" cy="95.4" r="2.9" fill="#3aa935"/>
<circle cx="245.2" cy="81.7" r="2.9" fill="#3aa935"/>
<circle cx="252.9" cy="72.2" r="2.9" fill="#3aa935"/>
<circle cx="260.2" cy="64.5" r="2.9" fill="#3aa935"/>
<circle cx="267.1" cy="63.3" r="2.9" fill="#3aa935"/>
<circle cx="273.8" cy="62.0" r="2.9" fill="#3aa935"/>
<circle cx="280.8" cy="61.1" r="2.9" fill="#3aa935"/>
<circle cx="212.4" cy="149.2" r="2.1" fill="white" stroke="#3aa935" stroke-width="0.8"/>
<circle cx="218.5" cy="142.5" r="2.1" fill="white" stroke="#3aa935" stroke-width="0.8"/>
<circle cx="225.5" cy="134.7" r="2.1" fill="white" stroke="#3aa935" stroke-width="0.8"/>
<circle cx="232.6" cy="102.1" r="2.1" fill="white" stroke="#3aa935" stroke-width="0.8"/>
<circle cx="238.6" cy="88.7" r="2.1" fill="white" stroke="#3aa935" stroke-width="0.8"/>
<circle cx="253" cy="128.8" r="1.5" fill="#1f3b63"/>
<circle cx="276" cy="134.2" r="1.5" fill="#1f3b63"/>
<circle cx="274" cy="141.6" r="1.5" fill="#1f3b63"/>
<circle cx="282.8" cy="99.4" r="1.5" fill="#1f3b63"/>
<circle cx="294.8" cy="75.8" r="1.5" fill="#1f3b63"/>
<ellipse cx="267.5" cy="138.5" rx="2.6" ry="1.5" transform="rotate(-25 267.5 138.5)" fill="#1f3b63"/>
<ellipse cx="308" cy="69.4" rx="1.4" ry="2.3" transform="rotate(20 308 69.4)" fill="#1f3b63"/>
<circle cx="242" cy="144.2" r="1.8" fill="white" stroke="#1f3b63" stroke-width="0.7"/>
<circle cx="273" cy="126" r="1.8" fill="white" stroke="#1f3b63" stroke-width="0.7"/>
<circle cx="282.8" cy="103" r="1.8" fill="white" stroke="#1f3b63" stroke-width="0.7"/>
<circle cx="286.4" cy="86.2" r="1.8" fill="white" stroke="#1f3b63" stroke-width="0.7"/>
<circle cx="296.5" cy="65.2" r="1.8" fill="white" stroke="#1f3b63" stroke-width="0.7"/>
<circle cx="286.8" cy="82.1" r="1.8" fill="white" stroke="#1f3b63" stroke-width="0.7"/>
<polygon points="239.1,133.68 243.9,133.68 241.5,129.6" fill="white" stroke="#1f3b63" stroke-width="0.75"/>
<polygon points="245.6,142.18 250.4,142.18 248,138.1" fill="white" stroke="#1f3b63" stroke-width="0.75"/>
<polygon points="259.1,142.18 263.9,142.18 261.5,138.1" fill="white" stroke="#1f3b63" stroke-width="0.75"/>
<polygon points="266.6,132.18 271.4,132.18 269,128.1" fill="white" stroke="#1f3b63" stroke-width="0.75"/>
<polygon points="281.6,115.48 286.4,115.48 284,111.39999999999999" fill="white" stroke="#1f3b63" stroke-width="0.75"/>
<polygon points="294.1,73.68 298.9,73.68 296.5,69.6" fill="white" stroke="#1f3b63" stroke-width="0.75"/>
<polygon points="299.20000000000005,66.38000000000001 304.0,66.38000000000001 301.6,62.300000000000004" fill="white" stroke="#1f3b63" stroke-width="0.75"/>
<polygon points="300.90000000000003,68.98 305.7,68.98 303.3,64.89999999999999" fill="white" stroke="#1f3b63" stroke-width="0.75"/>
<polygon points="239.2,138.39 243.8,138.39 241.5,142.3" fill="#1f3b63"/>
<polygon points="245.7,132.89 250.3,132.89 248,136.8" fill="#1f3b63"/>
<polygon points="258.7,133.19 263.3,133.19 261,137.10000000000002" fill="#1f3b63"/>
<polygon points="260.7,133.58999999999997 265.3,133.58999999999997 263,137.5" fill="#1f3b63"/>
<polygon points="281.7,106.19 286.3,106.19 284,110.1" fill="#1f3b63"/>
<polygon points="287.4,73.29 292.0,73.29 289.7,77.2" fill="#1f3b63"/>
<polygon points="295.9,66.09 300.5,66.09 298.2,70.0" fill="#1f3b63"/>
<polygon points="308.2,63.59 312.8,63.59 310.5,67.5" fill="#1f3b63"/>
<polygon points="273.7,132.58999999999997 278.3,132.58999999999997 276,136.5" fill="#1f3b63"/>
<polygon points="255.5,132.89999999999998 257.3,134.7 255.5,136.5 253.7,134.7" fill="#1f3b63"/>
<line x1="163.8" y1="35" x2="175.4" y2="35" stroke="#666" stroke-width="1"/>
<circle cx="169.6" cy="35" r="1.5" fill="#1f3b63"/>
<line x1="163.8" y1="45.6" x2="166.0" y2="45.6" stroke="#777" stroke-width="1"/>
<line x1="173.20000000000002" y1="45.6" x2="175.4" y2="45.6" stroke="#777" stroke-width="1"/>
<circle cx="169.6" cy="45.6" r="1.8" fill="white" stroke="#555" stroke-width="0.8"/>
<text x="178.9" y="37.5" font-size="7" text-anchor="start" fill="#222" font-weight="normal" >HU (1)</text>
<text x="178.9" y="48.1" font-size="7" text-anchor="start" fill="#222" font-weight="normal" >HU (2)</text>
<line x1="205.4" y1="35" x2="216.9" y2="35" stroke="#44648e" stroke-width="1"/>
<polygon points="208.89999999999998,33.59 213.5,33.59 211.2,37.5" fill="#1f3b63"/>
<line x1="205.4" y1="45.6" x2="207.6" y2="45.6" stroke="#44648e" stroke-width="1"/>
<line x1="214.70000000000002" y1="45.6" x2="216.9" y2="45.6" stroke="#44648e" stroke-width="1"/>
<polygon points="208.79999999999998,47.78 213.6,47.78 211.2,43.7" fill="white" stroke="#1f3b63" stroke-width="0.8"/>
<text x="220" y="37.5" font-size="7" text-anchor="start" fill="#222" font-weight="normal" >Clof (1)</text>
<text x="220" y="48.1" font-size="7" text-anchor="start" fill="#222" font-weight="normal" >Clof (2)</text>
<line x1="250" y1="35" x2="260.8" y2="35" stroke="#c8102e" stroke-width="1"/>
<polygon points="255.4,32.2 258.2,35 255.4,37.8 252.6,35" fill="#c8102e"/>
<line x1="250" y1="45.6" x2="252.2" y2="45.6" stroke="#c8102e" stroke-width="1"/>
<line x1="258.6" y1="45.6" x2="260.8" y2="45.6" stroke="#c8102e" stroke-width="1"/>
<polygon points="255.4,43.5 257.5,45.6 255.4,47.7 253.3,45.6" fill="white" stroke="#c8102e" stroke-width="0.8"/>
<text x="263.8" y="37.5" font-size="7" text-anchor="start" fill="#222" font-weight="normal" >Gem (1)</text>
<text x="263.8" y="48.1" font-size="7" text-anchor="start" fill="#222" font-weight="normal" >Gem (2)</text>
<line x1="296.2" y1="35" x2="307" y2="35" stroke="#3aa935" stroke-width="1"/>
<circle cx="301.6" cy="35" r="2.8" fill="#3aa935"/>
<line x1="296.2" y1="45.6" x2="298.4" y2="45.6" stroke="#3aa935" stroke-width="1"/>
<line x1="304.8" y1="45.6" x2="307" y2="45.6" stroke="#3aa935" stroke-width="1"/>
<circle cx="301.6" cy="45.6" r="1.9" fill="white" stroke="#3aa935" stroke-width="0.8"/>
<text x="310" y="37.5" font-size="7" text-anchor="start" fill="#222" font-weight="normal" >3AP (1)</text>
<text x="310" y="48.1" font-size="7" text-anchor="start" fill="#222" font-weight="normal" >3AP (2)</text>
<line x1="385.3" y1="23.8" x2="385.3" y2="77.6" stroke="#1e1e1e" stroke-width="1.3" />
<line x1="385.3" y1="82.3" x2="385.3" y2="134.9" stroke="#1e1e1e" stroke-width="1.3" />
<line x1="382.8" y1="26.900000000000006" x2="385.3" y2="26.900000000000006" stroke="#1e1e1e" stroke-width="1" />
<text x="380" y="29.600000000000005" font-size="7.8" text-anchor="end" fill="#222" font-weight="normal" >400</text>
<line x1="382.8" y1="42.0" x2="385.3" y2="42.0" stroke="#1e1e1e" stroke-width="1" />
<text x="380" y="44.7" font-size="7.8" text-anchor="end" fill="#222" font-weight="normal" >300</text>
<line x1="382.8" y1="57.1" x2="385.3" y2="57.1" stroke="#1e1e1e" stroke-width="1" />
<text x="380" y="59.800000000000004" font-size="7.8" text-anchor="end" fill="#222" font-weight="normal" >200</text>
<line x1="382.8" y1="72.2" x2="385.3" y2="72.2" stroke="#1e1e1e" stroke-width="1" />
<text x="380" y="74.9" font-size="7.8" text-anchor="end" fill="#222" font-weight="normal" >100</text>
<line x1="382.8" y1="83.80000000000001" x2="385.3" y2="83.80000000000001" stroke="#1e1e1e" stroke-width="1" />
<text x="380" y="86.50000000000001" font-size="7.8" text-anchor="end" fill="#222" font-weight="normal" >2.5</text>
<line x1="382.8" y1="93.92000000000002" x2="385.3" y2="93.92000000000002" stroke="#1e1e1e" stroke-width="1" />
<text x="380" y="96.62000000000002" font-size="7.8" text-anchor="end" fill="#222" font-weight="normal" >2.0</text>
<line x1="382.8" y1="104.04" x2="385.3" y2="104.04" stroke="#1e1e1e" stroke-width="1" />
<text x="380" y="106.74000000000001" font-size="7.8" text-anchor="end" fill="#222" font-weight="normal" >1.5</text>
<line x1="382.8" y1="114.16000000000001" x2="385.3" y2="114.16000000000001" stroke="#1e1e1e" stroke-width="1" />
<text x="380" y="116.86000000000001" font-size="7.8" text-anchor="end" fill="#222" font-weight="normal" >1.0</text>
<line x1="382.8" y1="124.28" x2="385.3" y2="124.28" stroke="#1e1e1e" stroke-width="1" />
<text x="380" y="126.98" font-size="7.8" text-anchor="end" fill="#222" font-weight="normal" >0.5</text>
<line x1="382.8" y1="134.4" x2="385.3" y2="134.4" stroke="#1e1e1e" stroke-width="1" />
<text x="380" y="137.1" font-size="7.8" text-anchor="end" fill="#222" font-weight="normal" >0.0</text>
<line x1="384.8" y1="134.4" x2="509.8" y2="134.4" stroke="#1e1e1e" stroke-width="1.3" />
<line x1="390.8" y1="134.4" x2="390.8" y2="136.8" stroke="#1e1e1e" stroke-width="1" />
<line x1="399.2" y1="134.4" x2="399.2" y2="136.8" stroke="#1e1e1e" stroke-width="1" />
<line x1="407.6" y1="134.4" x2="407.6" y2="136.8" stroke="#1e1e1e" stroke-width="1" />
<line x1="423.1" y1="134.4" x2="423.1" y2="136.8" stroke="#1e1e1e" stroke-width="1" />
<line x1="431.6" y1="134.4" x2="431.6" y2="136.8" stroke="#1e1e1e" stroke-width="1" />
<line x1="439.8" y1="134.4" x2="439.8" y2="136.8" stroke="#1e1e1e" stroke-width="1" />
<line x1="455.5" y1="134.4" x2="455.5" y2="136.8" stroke="#1e1e1e" stroke-width="1" />
<line x1="463.6" y1="134.4" x2="463.6" y2="136.8" stroke="#1e1e1e" stroke-width="1" />
<line x1="471.8" y1="134.4" x2="471.8" y2="136.8" stroke="#1e1e1e" stroke-width="1" />
<line x1="487.8" y1="134.4" x2="487.8" y2="136.8" stroke="#1e1e1e" stroke-width="1" />
<line x1="495.9" y1="134.4" x2="495.9" y2="136.8" stroke="#1e1e1e" stroke-width="1" />
<line x1="504.0" y1="134.4" x2="504.0" y2="136.8" stroke="#1e1e1e" stroke-width="1" />
<text transform="translate(393.40000000000003,140.8) rotate(-90)" font-size="7.3" text-anchor="end" fill="#222"><tspan font-style="italic">Pf</tspan>3D7</text>
<text transform="translate(401.8,140.8) rotate(-90)" font-size="7.3" text-anchor="end" fill="#222"><tspan font-style="italic">Pf</tspan>NF54</text>
<text transform="translate(410.20000000000005,140.8) rotate(-90)" font-size="7.3" text-anchor="end" fill="#222"><tspan font-style="italic">Pf</tspan>Dd2</text>
<text transform="translate(425.70000000000005,140.8) rotate(-90)" font-size="7.3" text-anchor="end" fill="#222"><tspan font-style="italic">Pf</tspan>3D7</text>
<text transform="translate(434.20000000000005,140.8) rotate(-90)" font-size="7.3" text-anchor="end" fill="#222"><tspan font-style="italic">Pf</tspan>NF54</text>
<text transform="translate(442.40000000000003,140.8) rotate(-90)" font-size="7.3" text-anchor="end" fill="#222"><tspan font-style="italic">Pf</tspan>Dd2</text>
<text transform="translate(458.1,140.8) rotate(-90)" font-size="7.3" text-anchor="end" fill="#222"><tspan font-style="italic">Pf</tspan>3D7</text>
<text transform="translate(466.20000000000005,140.8) rotate(-90)" font-size="7.3" text-anchor="end" fill="#222"><tspan font-style="italic">Pf</tspan>NF54</text>
<text transform="translate(474.40000000000003,140.8) rotate(-90)" font-size="7.3" text-anchor="end" fill="#222"><tspan font-style="italic">Pf</tspan>Dd2</text>
<text transform="translate(490.40000000000003,140.8) rotate(-90)" font-size="7.3" text-anchor="end" fill="#222"><tspan font-style="italic">Pf</tspan>3D7</text>
<text transform="translate(498.5,140.8) rotate(-90)" font-size="7.3" text-anchor="end" fill="#222"><tspan font-style="italic">Pf</tspan>NF54</text>
<text transform="translate(506.6,140.8) rotate(-90)" font-size="7.3" text-anchor="end" fill="#222"><tspan font-style="italic">Pf</tspan>Dd2</text>
<line x1="414.9" y1="23.3" x2="414.9" y2="178.5" stroke="#999" stroke-width="0.8" stroke-dasharray="0.8,0.8"/>
<line x1="447.4" y1="23.3" x2="447.4" y2="178.5" stroke="#999" stroke-width="0.8" stroke-dasharray="0.8,0.8"/>
<line x1="479.7" y1="23.3" x2="479.7" y2="178.5" stroke="#999" stroke-width="0.8" stroke-dasharray="0.8,0.8"/>
<line x1="385.4" y1="167.5" x2="412.5" y2="167.5" stroke="#8a8a8a" stroke-width="1" />
<line x1="416.8" y1="167.5" x2="446" y2="167.5" stroke="#8a8a8a" stroke-width="1" />
<line x1="449" y1="167.5" x2="478.4" y2="167.5" stroke="#8a8a8a" stroke-width="1" />
<line x1="481.2" y1="167.5" x2="510.1" y2="167.5" stroke="#8a8a8a" stroke-width="1" />
<text x="397.8" y="177.3" font-size="7.5" text-anchor="middle" fill="#222" font-weight="normal" >HU</text>
<text x="431.2" y="177.3" font-size="7.5" text-anchor="middle" fill="#222" font-weight="normal" >Clof</text>
<text x="463.6" y="177.3" font-size="7.5" text-anchor="middle" fill="#222" font-weight="normal" >Gem</text>
<text x="496" y="177.3" font-size="7.5" text-anchor="middle" fill="#222" font-weight="normal" >3AP</text>
<text x="389.8" y="18.7" font-size="7.2" text-anchor="start" fill="#222" font-weight="normal" textLength="30.5" lengthAdjust="spacingAndGlyphs"><tspan font-style="italic">P</tspan> &lt; .0001</text>
<line x1="391" y1="21.9" x2="408.8" y2="21.9" stroke="#444" stroke-width="0.9" />
<text x="389.8" y="31.3" font-size="7.2" text-anchor="start" fill="#222" font-weight="normal" textLength="30.5" lengthAdjust="spacingAndGlyphs"><tspan font-style="italic">P</tspan> = .0004</text>
<line x1="396" y1="33.2" x2="409.4" y2="33.2" stroke="#777" stroke-width="0.9" />
<text x="448.8" y="73" font-size="7.2" text-anchor="start" fill="#222" font-weight="normal" textLength="26.5" lengthAdjust="spacingAndGlyphs"><tspan font-style="italic">P</tspan> = .014</text>
<line x1="452.2" y1="75.2" x2="471.3" y2="75.2" stroke="#777" stroke-width="0.9" />
<text x="448.8" y="83.6" font-size="7.2" text-anchor="start" fill="#222" font-weight="normal" textLength="26.5" lengthAdjust="spacingAndGlyphs"><tspan font-style="italic">P</tspan> = .025</text>
<line x1="452.2" y1="85.3" x2="471.3" y2="85.3" stroke="#777" stroke-width="0.9" />
<text x="482" y="109.9" font-size="7.2" text-anchor="start" fill="#222" font-weight="normal" textLength="30.2" lengthAdjust="spacingAndGlyphs"><tspan font-style="italic">P</tspan> &lt; .0001</text>
<line x1="488.4" y1="112.4" x2="507.2" y2="112.4" stroke="#555" stroke-width="0.9" />
<text transform="translate(360.2,79.3) rotate(-90)" font-size="8.4" text-anchor="middle" fill="#222" textLength="27.5" lengthAdjust="spacingAndGlyphs" class="cd">EC<tspan font-size="5.8" dy="1.8">50</tspan><tspan dy="-1.8">, &#956;M</tspan></text>
<line x1="390.8" y1="59.5" x2="390.8" y2="78" stroke="#243f66" stroke-width="0.8" />
<polygon points="389.3,65.6 392.5,65.6 390.9,62.9" fill="#243f66"/>
<polygon points="389.5,67.9 392.7,67.9 391.1,65.2" fill="#243f66"/>
<polygon points="387.9,72.2 391.1,72.2 389.5,69.5" fill="#243f66"/>
<polygon points="390.2,61.8 393.4,61.8 391.8,59.1" fill="#243f66"/>
<polygon points="388.4,66.0 391.6,66.0 390.0,63.3" fill="#243f66"/>
<polygon points="389.1,78.5 392.3,78.5 390.7,75.8" fill="#243f66"/>
<polygon points="389.1,75.8 392.3,75.8 390.7,73.1" fill="#243f66"/>
<polygon points="388.2,72.5 391.4,72.5 389.8,69.8" fill="#243f66"/>
<polygon points="390.3,72.4 393.5,72.4 391.9,69.7" fill="#243f66"/>
<polygon points="389.9,70.5 393.1,70.5 391.5,67.8" fill="#243f66"/>
<polygon points="387.9,73.0 391.1,73.0 389.5,70.3" fill="#243f66"/>
<polygon points="389.5,74.5 392.7,74.5 391.1,71.8" fill="#243f66"/>
<polygon points="387.8,66.7 391.0,66.7 389.4,64.0" fill="#243f66"/>
<polygon points="389.1,76.3 392.3,76.3 390.7,73.6" fill="#243f66"/>
<polygon points="390.3,73.8 393.5,73.8 391.9,71.1" fill="#243f66"/>
<polygon points="390.5,73.7 393.7,73.7 392.1,71.0" fill="#243f66"/>
<polygon points="390.1,68.3 393.3,68.3 391.7,65.6" fill="#243f66"/>
<polygon points="390.5,69.2 393.7,69.2 392.1,66.5" fill="#243f66"/>
<polygon points="388.0,76.5 391.2,76.5 389.6,73.8" fill="#243f66"/>
<polygon points="388.4,63.9 391.6,63.9 390.0,61.2" fill="#243f66"/>
<polygon points="389.0,78.0 392.2,78.0 390.6,75.3" fill="#243f66"/>
<polygon points="388.6,72.3 391.8,72.3 390.2,69.6" fill="#243f66"/>
<ellipse cx="390.8" cy="68" rx="2.4" ry="5" fill="#243f66"/>
<line x1="388" y1="68.5" x2="393.6" y2="68.5" stroke="#111" stroke-width="1" />
<line x1="396.5" y1="66" x2="401.5" y2="66" stroke="#243f66" stroke-width="1.6" />
<line x1="407.3" y1="38.5" x2="407.3" y2="61.8" stroke="#222" stroke-width="0.9" />
<polygon points="405.6,40.5 409,40.5 407.3,37" fill="#222"/>
<polygon points="405.4,54.7 408.6,54.7 407.0,52.0" fill="#243f66"/>
<polygon points="405.9,53.4 409.1,53.4 407.5,50.7" fill="#243f66"/>
<polygon points="406.7,55.3 409.9,55.3 408.3,52.6" fill="#243f66"/>
<polygon points="406.7,56.1 409.9,56.1 408.3,53.4" fill="#243f66"/>
<polygon points="406.9,57.5 410.1,57.5 408.5,54.8" fill="#243f66"/>
<polygon points="404.9,56.0 408.1,56.0 406.5,53.3" fill="#243f66"/>
<polygon points="406.8,57.5 410.0,57.5 408.4,54.8" fill="#243f66"/>
<polygon points="405.9,57.8 409.1,57.8 407.5,55.1" fill="#243f66"/>
<polygon points="405.0,56.3 408.2,56.3 406.6,53.6" fill="#243f66"/>
<line x1="405" y1="53" x2="409.6" y2="53" stroke="#111" stroke-width="1" />
<polygon points="405.9,61.6 408.7,61.6 407.3,59.2" fill="#243f66"/>
<circle cx="423.3" cy="74.7" r="1.4" fill="#1f3d63"/>
<circle cx="421.8" cy="70.0" r="1.4" fill="#1f3d63"/>
<circle cx="424.6" cy="74.9" r="1.4" fill="#1f3d63"/>
<circle cx="424.0" cy="68.3" r="1.4" fill="#1f3d63"/>
<circle cx="422.1" cy="71.1" r="1.4" fill="#1f3d63"/>
<circle cx="423.9" cy="70.1" r="1.4" fill="#1f3d63"/>
<circle cx="421.7" cy="75.1" r="1.4" fill="#1f3d63"/>
<circle cx="421.7" cy="72.8" r="1.4" fill="#1f3d63"/>
<circle cx="422.6" cy="73.8" r="1.4" fill="#1f3d63"/>
<circle cx="424.5" cy="75.2" r="1.4" fill="#1f3d63"/>
<circle cx="424.6" cy="71.9" r="1.4" fill="#1f3d63"/>
<circle cx="421.8" cy="70.2" r="1.4" fill="#1f3d63"/>
<circle cx="421.7" cy="72.7" r="1.4" fill="#1f3d63"/>
<circle cx="422.8" cy="69.2" r="1.4" fill="#1f3d63"/>
<ellipse cx="423.1" cy="72.5" rx="2.2" ry="3.5" fill="#1f3d63"/>
<line x1="429.6" y1="74.9" x2="433.6" y2="74.9" stroke="#111" stroke-width="1.6" />
<circle cx="438.2" cy="73.5" r="1.4" fill="#1f3d63"/>
<circle cx="440.3" cy="71.0" r="1.4" fill="#1f3d63"/>
<circle cx="440.6" cy="72.2" r="1.4" fill="#1f3d63"/>
<circle cx="438.8" cy="74.7" r="1.4" fill="#1f3d63"/>
<circle cx="439.3" cy="72.8" r="1.4" fill="#1f3d63"/>
<circle cx="439.5" cy="73.6" r="1.4" fill="#1f3d63"/>
<circle cx="439.6" cy="73.3" r="1.4" fill="#1f3d63"/>
<circle cx="439.2" cy="74.9" r="1.4" fill="#1f3d63"/>
<ellipse cx="439.2" cy="73" rx="2.5" ry="2" fill="#1f3d63"/>
<line x1="455.4" y1="112.5" x2="455.4" y2="125" stroke="#7a1030" stroke-width="0.8" />
<polygon points="454.4,119.0 457.6,119.0 456.0,116.3" fill="#c8143c"/>
<polygon points="453.3,116.6 456.5,116.6 454.9,113.9" fill="#c8143c"/>
<polygon points="453.9,125.8 457.1,125.8 455.5,123.1" fill="#c8143c"/>
<polygon points="452.5,120.5 455.7,120.5 454.1,117.8" fill="#c8143c"/>
<polygon points="454.0,118.8 457.2,118.8 455.6,116.1" fill="#c8143c"/>
<polygon points="454.1,113.9 457.3,113.9 455.7,111.2" fill="#c8143c"/>
<polygon points="452.6,121.5 455.8,121.5 454.2,118.8" fill="#c8143c"/>
<polygon points="453.7,121.4 456.9,121.4 455.3,118.7" fill="#c8143c"/>
<polygon points="453.4,122.1 456.6,122.1 455.0,119.4" fill="#c8143c"/>
<polygon points="454.5,122.4 457.7,122.4 456.1,119.7" fill="#c8143c"/>
<polygon points="452.6,113.9 455.8,113.9 454.2,111.2" fill="#c8143c"/>
<polygon points="455.1,122.1 458.3,122.1 456.7,119.4" fill="#c8143c"/>
<polygon points="453.7,116.7 456.9,116.7 455.3,114.0" fill="#c8143c"/>
<polygon points="453.3,121.0 456.5,121.0 454.9,118.3" fill="#c8143c"/>
<line x1="453.2" y1="118.2" x2="457.6" y2="118.2" stroke="#222" stroke-width="1.2" />
<line x1="461.8" y1="123.6" x2="465.8" y2="121.8" stroke="#3a0a1a" stroke-width="2"/>
<line x1="472" y1="99" x2="472" y2="122.7" stroke="#333" stroke-width="0.8" />
<polygon points="470.2,101.6 473.8,101.6 472,98.8" fill="#c8143c"/>
<polygon points="470.2,104.1 473.8,104.1 472,101.3" fill="#c8143c"/>
<polygon points="470.2,111.6 473.8,111.6 472,108.8" fill="#c8143c"/>
<polygon points="470.2,114.1 473.8,114.1 472,111.3" fill="#c8143c"/>
<polygon points="470.2,116.6 473.8,116.6 472,113.8" fill="#c8143c"/>
<polygon points="470.2,121.6 473.8,121.6 472,118.8" fill="#c8143c"/>
<polygon points="470.2,123.6 473.8,123.6 472,120.8" fill="#c8143c"/>
<line x1="470" y1="113.8" x2="474" y2="113.8" stroke="#222" stroke-width="1.2" />
<line x1="487.9" y1="116.8" x2="487.9" y2="126.7" stroke="#2f9a3c" stroke-width="1.2" />
<polygon points="485.8,121.6 489.0,121.6 487.4,118.9" fill="#2f9a3c"/>
<polygon points="486.6,121.6 489.8,121.6 488.2,118.9" fill="#2f9a3c"/>
<polygon points="486.0,121.0 489.2,121.0 487.6,118.3" fill="#2f9a3c"/>
<polygon points="485.1,125.4 488.3,125.4 486.7,122.7" fill="#2f9a3c"/>
<polygon points="486.9,123.5 490.1,123.5 488.5,120.8" fill="#2f9a3c"/>
<polygon points="485.6,121.0 488.8,121.0 487.2,118.3" fill="#2f9a3c"/>
<polygon points="485.6,125.7 488.8,125.7 487.2,123.0" fill="#2f9a3c"/>
<polygon points="486.1,119.9 489.3,119.9 487.7,117.2" fill="#2f9a3c"/>
<polygon points="485.2,124.7 488.4,124.7 486.8,122.0" fill="#2f9a3c"/>
<polygon points="485.9,121.2 489.1,121.2 487.5,118.5" fill="#2f9a3c"/>
<polygon points="486.1,126.0 489.3,126.0 487.7,123.3" fill="#2f9a3c"/>
<polygon points="485.4,126.2 488.6,126.2 487.0,123.5" fill="#2f9a3c"/>
<ellipse cx="487.9" cy="121" rx="1.4" ry="3.5" fill="#2f9a3c"/>
<line x1="485.3" y1="123.8" x2="490.5" y2="123.8" stroke="#111" stroke-width="1.4" />
<line x1="493.8" y1="125.2" x2="497.8" y2="125.2" stroke="#111" stroke-width="1.4" />
<polygon points="501.3,129.8 506.7,129.8 504,125.6" fill="#2f9a3c"/>
<line x1="502" y1="128.3" x2="506" y2="128.3" stroke="#111" stroke-width="1.2" />
<line x1="35.1" y1="216.4" x2="35.1" y2="315.3" stroke="#1e1e1e" stroke-width="1.3" />
<line x1="32.6" y1="219.40000000000003" x2="35.1" y2="219.40000000000003" stroke="#1e1e1e" stroke-width="1" />
<text x="29.4" y="222.30000000000004" font-size="8.3" text-anchor="end" fill="#222" font-weight="normal" >50</text>
<line x1="32.6" y1="238.58" x2="35.1" y2="238.58" stroke="#1e1e1e" stroke-width="1" />
<text x="29.4" y="241.48000000000002" font-size="8.3" text-anchor="end" fill="#222" font-weight="normal" >40</text>
<line x1="32.6" y1="257.76" x2="35.1" y2="257.76" stroke="#1e1e1e" stroke-width="1" />
<text x="29.4" y="260.65999999999997" font-size="8.3" text-anchor="end" fill="#222" font-weight="normal" >30</text>
<line x1="32.6" y1="276.94" x2="35.1" y2="276.94" stroke="#1e1e1e" stroke-width="1" />
<text x="29.4" y="279.84" font-size="8.3" text-anchor="end" fill="#222" font-weight="normal" >20</text>
<line x1="32.6" y1="296.12" x2="35.1" y2="296.12" stroke="#1e1e1e" stroke-width="1" />
<text x="29.4" y="299.02" font-size="8.3" text-anchor="end" fill="#222" font-weight="normal" >10</text>
<line x1="32.6" y1="315.3" x2="35.1" y2="315.3" stroke="#1e1e1e" stroke-width="1" />
<text x="29.4" y="318.2" font-size="8.3" text-anchor="end" fill="#222" font-weight="normal" >0</text>
<text transform="translate(14.6,265.4) rotate(-90)" font-size="8.4" text-anchor="middle" fill="#222" textLength="42.3" lengthAdjust="spacingAndGlyphs" class="cd">% of inhibition</text>
<rect x="45.9" y="301.8" width="20.7" height="13.5" fill="#9d8fca"/>
<rect x="66.6" y="309.9" width="23.6" height="5.4" fill="#3db4e2"/>
<rect x="90.2" y="250.4" width="20.6" height="64.9" fill="#a5b97d"/>
<line x1="34.6" y1="315.3" x2="122.2" y2="315.3" stroke="#1e1e1e" stroke-width="1.3" />
<line x1="56.4" y1="315.3" x2="56.4" y2="317.8" stroke="#1e1e1e" stroke-width="1" />
<line x1="78.5" y1="315.3" x2="78.5" y2="317.8" stroke="#1e1e1e" stroke-width="1" />
<line x1="100.3" y1="315.3" x2="100.3" y2="317.8" stroke="#1e1e1e" stroke-width="1" />
<line x1="52" y1="301.2" x2="60" y2="301.2" stroke="#555" stroke-width="1" />
<line x1="78.6" y1="306.2" x2="78.6" y2="312" stroke="#444" stroke-width="0.8" />
<line x1="74.5" y1="306.2" x2="82.8" y2="306.2" stroke="#444" stroke-width="0.8" />
<line x1="100.3" y1="246.3" x2="100.3" y2="260.3" stroke="#333" stroke-width="0.8" />
<line x1="96" y1="246.3" x2="104.6" y2="246.3" stroke="#333" stroke-width="0.8" />
<line x1="96" y1="259.9" x2="104.6" y2="259.9" stroke="#333" stroke-width="0.8" />
<circle cx="47.2" cy="302.5" r="2.3" fill="#111"/>
<circle cx="56" cy="299.9" r="2.3" fill="#111"/>
<circle cx="65.2" cy="299.8" r="2.3" fill="#111"/>
<circle cx="73.5" cy="306.2" r="2.3" fill="#111"/>
<circle cx="73.5" cy="311.7" r="2.3" fill="#111"/>
<circle cx="82.3" cy="310.3" r="2.3" fill="#111"/>
<circle cx="95.6" cy="246.8" r="2.3" fill="#111"/>
<circle cx="105.3" cy="250.9" r="2.3" fill="#111"/>
<circle cx="100.1" cy="259.9" r="2.3" fill="#111"/>
<text transform="translate(58.8,324.8) rotate(-34)" font-size="7.2" text-anchor="end" fill="#222">ring</text>
<text transform="translate(81.4,325.4) rotate(-34)" font-size="7.2" text-anchor="end" fill="#222">trophozoite</text>
<text transform="translate(103,324.8) rotate(-34)" font-size="7.2" text-anchor="end" fill="#222">schizont</text>
<text x="58.5" y="216.6" font-size="7.2" text-anchor="start" fill="#222" font-weight="normal" textLength="33" lengthAdjust="spacingAndGlyphs"><tspan font-style="italic">P</tspan> &lt; .0001</text>
<line x1="50" y1="219.3" x2="100.8" y2="219.3" stroke="#333" stroke-width="0.9" />
<text x="70.8" y="228.5" font-size="7.2" text-anchor="start" fill="#222" font-weight="normal" textLength="33" lengthAdjust="spacingAndGlyphs"><tspan font-style="italic">P</tspan> &lt; .0001</text>
<line x1="75.4" y1="231.5" x2="100" y2="231.5" stroke="#333" stroke-width="0.9" />
<line x1="344.9" y1="217.8" x2="344.9" y2="315.9" stroke="#1e1e1e" stroke-width="1.3" />
<line x1="342.4" y1="219.99999999999997" x2="344.9" y2="219.99999999999997" stroke="#1e1e1e" stroke-width="1" />
<text x="339.6" y="222.79999999999998" font-size="7.9" text-anchor="end" fill="#222" font-weight="normal" >2.0</text>
<line x1="342.4" y1="243.84999999999997" x2="344.9" y2="243.84999999999997" stroke="#1e1e1e" stroke-width="1" />
<text x="339.6" y="246.64999999999998" font-size="7.9" text-anchor="end" fill="#222" font-weight="normal" >1.5</text>
<line x1="342.4" y1="267.7" x2="344.9" y2="267.7" stroke="#1e1e1e" stroke-width="1" />
<text x="339.6" y="270.5" font-size="7.9" text-anchor="end" fill="#222" font-weight="normal" >1.0</text>
<line x1="342.4" y1="291.54999999999995" x2="344.9" y2="291.54999999999995" stroke="#1e1e1e" stroke-width="1" />
<text x="339.6" y="294.34999999999997" font-size="7.9" text-anchor="end" fill="#222" font-weight="normal" >0.5</text>
<line x1="342.4" y1="315.4" x2="344.9" y2="315.4" stroke="#1e1e1e" stroke-width="1" />
<text x="339.6" y="318.2" font-size="7.9" text-anchor="end" fill="#222" font-weight="normal" >0.0</text>
<text transform="translate(322.6,265.8) rotate(-90)" font-size="8.3" text-anchor="middle" fill="#222" textLength="51.4" lengthAdjust="spacingAndGlyphs" class="cd">Fold-change EC50</text>
<rect x="353.7" y="267.8" width="15.6" height="47.6" fill="#5e2a72"/>
<rect x="369.3" y="261.4" width="16.5" height="54" fill="#f7941d"/>
<line x1="345.5" y1="268.1" x2="393.6" y2="268.1" stroke="#8fa8c8" stroke-width="0.9" stroke-dasharray="0.9,1.1"/>
<line x1="339.6" y1="261.2" x2="385" y2="261.2" stroke="#222" stroke-width="1" stroke-dasharray="1,1"/>
<text x="348.4" y="258.8" font-size="7.6" text-anchor="start" fill="#222" font-weight="normal" >1.16</text>
<line x1="344.4" y1="315.4" x2="393.7" y2="315.4" stroke="#1e1e1e" stroke-width="1.3" />
<line x1="361.5" y1="315.4" x2="361.5" y2="317.9" stroke="#1e1e1e" stroke-width="1" />
<line x1="377.6" y1="315.4" x2="377.6" y2="317.9" stroke="#1e1e1e" stroke-width="1" />
<circle cx="355.7" cy="266.7" r="1.9" fill="white" stroke="#222" stroke-width="0.8"/>
<circle cx="359.1" cy="264.6" r="1.9" fill="white" stroke="#222" stroke-width="0.8"/>
<circle cx="362" cy="267.2" r="1.9" fill="white" stroke="#222" stroke-width="0.8"/>
<circle cx="365.9" cy="267.2" r="1.9" fill="white" stroke="#222" stroke-width="0.8"/>
<circle cx="358" cy="267.5" r="1.9" fill="white" stroke="#222" stroke-width="0.8"/>
<line x1="377.2" y1="249.7" x2="377.2" y2="265" stroke="#333" stroke-width="0.8" />
<line x1="372.5" y1="253.1" x2="382" y2="253.1" stroke="#333" stroke-width="0.8" />
<circle cx="377.2" cy="249.9" r="2.3" fill="#111"/>
<circle cx="371.9" cy="254.2" r="2.3" fill="#111"/>
<circle cx="377.2" cy="257.1" r="2.3" fill="#111"/>
<circle cx="372.1" cy="265.5" r="2.3" fill="#111"/>
<circle cx="377.8" cy="263.8" r="2.3" fill="#111"/>
<circle cx="383.5" cy="265" r="2.3" fill="#111"/>
<text transform="translate(363.6,324.1) rotate(-34)" font-size="7.2" text-anchor="end" fill="#222">HbAA</text>
<text transform="translate(380.6,324.1) rotate(-34)" font-size="7.2" text-anchor="end" fill="#222">HbSS</text>
<line x1="447.1" y1="217.8" x2="447.1" y2="315.7" stroke="#1e1e1e" stroke-width="1.3" />
<line x1="444.6" y1="220.6" x2="447.1" y2="220.6" stroke="#1e1e1e" stroke-width="1" />
<text x="441.8" y="223.29999999999998" font-size="7.6" text-anchor="end" fill="#222" font-weight="normal" >2.0</text>
<line x1="444.6" y1="244.25" x2="447.1" y2="244.25" stroke="#1e1e1e" stroke-width="1" />
<text x="441.8" y="246.95" font-size="7.6" text-anchor="end" fill="#222" font-weight="normal" >1.5</text>
<line x1="444.6" y1="267.9" x2="447.1" y2="267.9" stroke="#1e1e1e" stroke-width="1" />
<text x="441.8" y="270.59999999999997" font-size="7.6" text-anchor="end" fill="#222" font-weight="normal" >1.0</text>
<line x1="444.6" y1="291.55" x2="447.1" y2="291.55" stroke="#1e1e1e" stroke-width="1" />
<text x="441.8" y="294.25" font-size="7.6" text-anchor="end" fill="#222" font-weight="normal" >0.5</text>
<line x1="444.6" y1="315.2" x2="447.1" y2="315.2" stroke="#1e1e1e" stroke-width="1" />
<text x="441.8" y="317.9" font-size="7.6" text-anchor="end" fill="#222" font-weight="normal" >0.0</text>
<text transform="translate(423.9,266.3) rotate(-90)" font-size="7.3" text-anchor="middle" fill="#222" textLength="97" lengthAdjust="spacingAndGlyphs" class="cd">Fold-change inhibition HbSS/HbAA</text>
<rect x="490.2" y="270.5" width="13.7" height="44.7" fill="#a5b97d"/>
<line x1="448.5" y1="267.9" x2="512.8" y2="267.9" stroke="#777" stroke-width="0.9" stroke-dasharray="0.9,1.1"/>
<line x1="446.6" y1="315.2" x2="512.6" y2="315.2" stroke="#1e1e1e" stroke-width="1.3" />
<line x1="463.6" y1="315.2" x2="463.6" y2="317.7" stroke="#1e1e1e" stroke-width="1" />
<line x1="480.4" y1="315.2" x2="480.4" y2="317.7" stroke="#1e1e1e" stroke-width="1" />
<line x1="497.2" y1="315.2" x2="497.2" y2="317.7" stroke="#1e1e1e" stroke-width="1" />
<line x1="496.8" y1="253.7" x2="496.8" y2="290.3" stroke="#333" stroke-width="0.9" />
<line x1="493" y1="253.7" x2="500.6" y2="253.7" stroke="#333" stroke-width="0.9" />
<line x1="493" y1="290.3" x2="500.6" y2="290.3" stroke="#333" stroke-width="0.9" />
<circle cx="473.9" cy="313.2" r="2.3" fill="#111"/>
<circle cx="479.8" cy="313.2" r="2.3" fill="#111"/>
<circle cx="485.7" cy="313.2" r="2.3" fill="#111"/>
<circle cx="496.8" cy="253.7" r="2.3" fill="#111"/>
<circle cx="496.8" cy="270.5" r="2.3" fill="#111"/>
<circle cx="496.8" cy="290.3" r="2.3" fill="#111"/>
<text transform="translate(466.3,324.6) rotate(-34)" font-size="7.3" text-anchor="end" fill="#222">ring</text>
<text transform="translate(483.2,324.6) rotate(-34)" font-size="7.3" text-anchor="end" fill="#222">trophozoite</text>
<text transform="translate(501,324.6) rotate(-34)" font-size="7.3" text-anchor="end" fill="#222">schizont</text>
<rect x="0.5" y="0.5" width="519" height="353" fill="none" stroke="#555" stroke-width="1"/>
</svg>
</body></html>
